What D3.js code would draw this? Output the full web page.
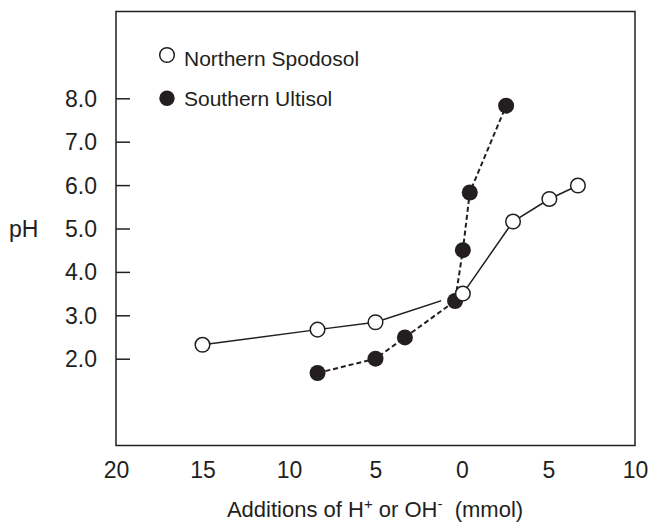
<html>
<head>
<script src="https://d3js.org/d3.v7.min.js"></script>
<style>
  body { margin: 0; background: #fff; }
  text { font-family: Arial, "Liberation Sans", sans-serif; fill: #231f20; }
</style>
</head>
<body>
<svg width="650" height="522"></svg>
<script>
// additions: negative = H+ (left side), positive = OH- (right side)
var northX = [-15, -8.35, -5.0, 0.05, 2.95, 5.05, 6.7];
var northPH = [2.32, 2.67, 2.84, 3.5, 5.16, 5.68, 5.99];
var southX = [-8.35, -5.0, -3.3, -0.4, 0.05, 0.45, 2.55];
var southPH = [1.67, 2.0, 2.49, 3.33, 4.5, 5.83, 7.83];
var xTicks = [-20, -15, -10, -5, 0, 5, 10];
var yTicks = [2, 3, 4, 5, 6, 7, 8];
var seriesNames = ['Northern Spodosol', 'Southern Ultisol'];

var svg = d3.select('svg');
var ink = '#231f20';

var x = d3.scaleLinear().domain([-20, 10]).range([116, 635]);
var y = d3.scaleLinear().domain([0, 10]).range([445.5, 11.5]);

// frame
svg.append('rect')
    .attr('x', x(-20)).attr('y', y(10))
    .attr('width', x(10) - x(-20)).attr('height', y(0) - y(10))
    .attr('fill', 'none').attr('stroke', ink).attr('stroke-width', 1.5);

// y axis: inward ticks, labels outside
var yAxis = svg.append('g')
    .attr('transform', 'translate(' + x(-20) + ',0)')
    .call(d3.axisRight(y).tickValues(yTicks).tickSize(14).tickFormat(d3.format('.1f')));
yAxis.select('.domain').remove();
yAxis.selectAll('line').attr('stroke', ink).attr('stroke-width', 1.5);
yAxis.selectAll('text')
    .attr('x', -19).attr('text-anchor', 'end')
    .style('font-size', '23px').attr('dy', '0.35em');

// x axis: labels only
var xAxis = svg.append('g')
    .attr('transform', 'translate(0,' + y(0) + ')')
    .call(d3.axisBottom(x).tickValues(xTicks).tickSize(0)
        .tickFormat(function (d) { return Math.abs(d); }));
xAxis.select('.domain').remove();
xAxis.selectAll('text').attr('y', 16).attr('dy', '0.71em').style('font-size', '23px');

svg.append('text')
    .attr('x', 9).attr('y', y(5)).attr('dy', '0.35em')
    .style('font-size', '23px').text('pH');

var xl = svg.append('text')
    .attr('x', 375).attr('y', 517).attr('text-anchor', 'middle')
    .style('font-size', '22px');
xl.append('tspan').text('Additions of H');
xl.append('tspan').attr('dy', -8).style('font-size', '15px').text('+');
xl.append('tspan').attr('dy', 8).text(' or OH');
xl.append('tspan').attr('dy', -8).style('font-size', '15px').text('-');
xl.append('tspan').attr('dy', 8).text('\u00a0 (mmol)');

var north = northX.map(function (d, i) { return [d, northPH[i]]; });
var south = southX.map(function (d, i) { return [d, southPH[i]]; });
var line = d3.line().x(function (d) { return x(d[0]); }).y(function (d) { return y(d[1]); });

svg.append('path').datum(north).attr('d', line)
    .attr('fill', 'none').attr('stroke', ink).attr('stroke-width', 1.5);

// white knock-out around the filled points, so the solid line stops short of them
svg.selectAll('.halo').data(south).enter().append('circle')
    .attr('class', 'halo')
    .attr('cx', function (d) { return x(d[0]); })
    .attr('cy', function (d) { return y(d[1]); })
    .attr('r', 14).attr('fill', '#fff');

svg.append('path').datum(south).attr('d', line)
    .attr('fill', 'none').attr('stroke', ink).attr('stroke-width', 2)
    .attr('stroke-dasharray', '5,3');

svg.selectAll('.south').data(south).enter().append('circle')
    .attr('class', 'south')
    .attr('cx', function (d) { return x(d[0]); })
    .attr('cy', function (d) { return y(d[1]); })
    .attr('r', 8).attr('fill', ink);
svg.selectAll('.north').data(north).enter().append('circle')
    .attr('class', 'north')
    .attr('cx', function (d) { return x(d[0]); })
    .attr('cy', function (d) { return y(d[1]); })
    .attr('r', 7.3).attr('fill', '#fff').attr('stroke', ink).attr('stroke-width', 1.5);

// legend
var leg = svg.append('g');
leg.append('circle').attr('cx', 167).attr('cy', 55).attr('r', 7.3)
    .attr('fill', '#fff').attr('stroke', ink).attr('stroke-width', 1.5);
leg.append('circle').attr('cx', 167).attr('cy', 98.3).attr('r', 7.7).attr('fill', ink);
leg.selectAll('text').data(seriesNames).enter().append('text')
    .attr('x', 184).attr('y', function (d, i) { return i === 0 ? 66 : 106; })
    .style('font-size', '21px').text(function (d) { return d; });
</script>
</body>
</html>
